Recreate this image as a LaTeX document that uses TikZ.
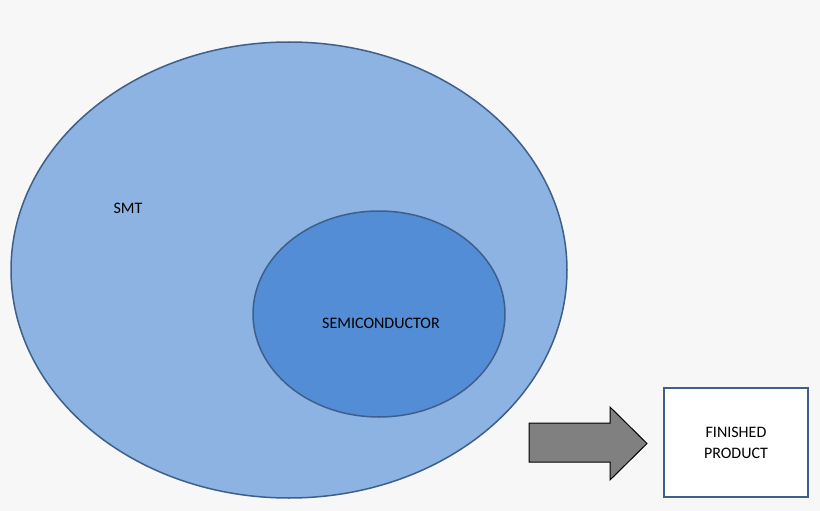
\documentclass[tikz,border=0pt]{standalone}
\usepackage{fontspec}
\setmainfont{Carlito}
\definecolor{bg}{HTML}{F7F7F7}
\definecolor{big}{HTML}{8DB3E2}
\definecolor{small}{HTML}{538DD5}
\definecolor{edge}{HTML}{3E5F8A}
\begin{document}
\begin{tikzpicture}[x=1pt,y=-1pt,
  lbl/.style={font=\fontsize{16}{19}\selectfont, text=black}]
\fill[bg] (0,0) rectangle (820,511);
\useasboundingbox (0,0) rectangle (820,511);
\draw[edge, line width=1.5pt, fill=big] (289,270) ellipse [x radius=278, y radius=228];
\node[lbl] (smt) at (128,208) {SMT};
\draw[edge, line width=1.5pt, fill=small] (379,314) ellipse [x radius=126, y radius=103];
\node[lbl] (semi) at (381,323) {SEMICONDUCTOR};
\draw[black, line width=1pt, fill=gray] (529,423) -- (610,423) -- (610,407) -- (647,443.5) -- (610,480) -- (610,462) -- (529,462) -- cycle;
\node[draw=edge, line width=1.5pt, fill=white, minimum width=144pt, minimum height=109pt, align=center, lbl] (fp) at (736,442.5) {FINISHED\\[2pt]PRODUCT};
\end{tikzpicture}
\end{document}
